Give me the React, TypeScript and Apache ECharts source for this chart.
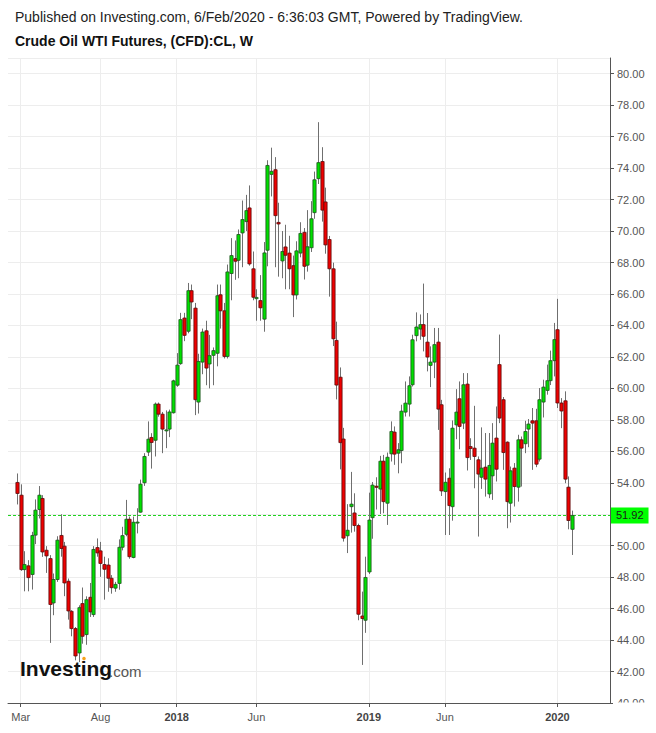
import React, { useEffect, useRef } from 'react';
import * as echarts from 'echarts';

// ---- Data (weekly bars, Crude Oil WTI CFD, week of 27 Feb 2017 .. week of 3 Feb 2020) ----
const START_UTC = Date.UTC(2017, 1, 27);
const opens = [
  54.02, 53.21, 48.48, 48.72, 48.17, 50.67, 52.30, 53.00, 49.71, 49.18,
  46.36, 47.85, 50.65, 49.97, 47.74, 45.83, 44.73, 43.18, 46.32, 44.35,
  46.72, 45.62, 49.88, 49.67, 48.80, 48.77, 47.93, 47.30, 47.60, 49.90,
  50.72, 51.68, 49.25, 51.45, 52.13, 54.00, 55.95, 56.88, 56.70, 59.00,
  58.36, 57.30, 57.41, 58.45, 60.20, 61.57, 64.47, 63.63, 66.21, 65.10,
  59.13, 61.67, 63.66, 61.55, 62.10, 62.23, 65.95, 64.93, 62.03, 67.30,
  68.25, 68.14, 69.88, 70.60, 71.47, 67.60, 65.70, 65.58, 64.40, 68.78,
  73.60, 73.90, 70.55, 68.10, 68.99, 68.60, 67.80, 65.94, 68.60, 69.92,
  67.83, 68.94, 71.17, 73.33, 74.42, 71.85, 69.46, 67.60, 63.05, 60.71,
  56.78, 50.63, 52.48, 52.08, 51.28, 45.53, 45.26, 48.33, 51.78, 53.78,
  53.60, 55.37, 52.70, 55.84, 57.22, 55.88, 56.05, 58.49, 59.00, 60.23,
  63.35, 63.77, 64.05, 62.94, 61.46, 61.67, 62.94, 58.96, 53.44, 54.29,
  52.48, 57.68, 59.34, 57.79, 60.27, 56.30, 56.20, 55.46, 54.35, 54.99,
  53.29, 54.44, 56.84, 61.51, 59.28, 56.58, 52.70, 54.93, 53.72, 56.73,
  56.48, 57.41, 57.94, 57.94, 55.50, 59.13, 59.87, 60.49, 61.76, 63.73,
  59.07, 59.21, 53.72, 51.04,
];
const closes = [
  53.32, 48.48, 48.80, 47.97, 50.65, 52.26, 53.21, 49.60, 49.35, 46.26,
  47.85, 50.35, 49.82, 47.63, 45.85, 44.73, 42.99, 46.06, 44.24, 46.57,
  45.79, 49.76, 49.54, 48.87, 48.50, 47.93, 47.33, 47.54, 49.90, 50.64,
  51.68, 49.30, 51.49, 51.50, 53.91, 55.67, 56.77, 56.56, 59.00, 58.36,
  57.41, 57.36, 58.50, 60.48, 61.48, 64.37, 63.37, 66.21, 65.49, 59.28,
  61.71, 63.58, 61.29, 62.08, 62.40, 65.89, 64.93, 62.03, 67.40, 68.44,
  68.08, 69.78, 70.73, 71.30, 67.91, 65.79, 65.78, 65.12, 68.61, 74.17,
  73.80, 70.98, 70.45, 68.70, 68.46, 67.60, 65.94, 68.74, 69.85, 67.76,
  69.00, 70.78, 73.26, 74.35, 71.33, 69.12, 67.60, 63.15, 60.21, 56.55,
  50.48, 50.98, 52.64, 51.28, 45.64, 45.37, 47.98, 51.63, 53.85, 53.71,
  55.37, 52.80, 55.62, 57.26, 55.82, 56.10, 58.55, 59.06, 60.17, 63.09,
  63.90, 64.05, 63.31, 61.99, 61.67, 62.78, 58.68, 53.48, 54.03, 52.55,
  57.47, 58.49, 57.58, 60.23, 55.60, 56.18, 55.67, 54.55, 54.93, 54.23,
  55.10, 56.52, 54.86, 58.11, 55.92, 52.80, 54.76, 53.76, 56.73, 56.20,
  57.26, 57.73, 57.79, 55.18, 59.28, 60.08, 60.49, 61.76, 63.10, 59.07,
  58.56, 54.23, 51.60, 51.92,
];
const lows = [
  52.62, 48.40, 47.10, 47.10, 47.21, 50.10, 51.73, 49.29, 48.27, 43.82,
  45.58, 47.70, 49.30, 46.79, 45.30, 44.24, 42.71, 42.60, 43.77, 43.70,
  45.47, 45.47, 49.30, 48.02, 46.57, 47.07, 46.95, 47.07, 47.20, 49.70,
  50.60, 49.17, 49.20, 50.78, 52.10, 53.80, 55.70, 54.90, 55.67, 58.20,
  55.88, 56.20, 56.90, 58.40, 60.10, 61.50, 63.00, 63.50, 64.40, 58.30,
  58.40, 60.90, 60.20, 60.00, 60.20, 61.40, 63.80, 61.90, 61.90, 65.60,
  66.90, 67.00, 67.70, 70.00, 67.80, 65.60, 64.30, 64.30, 63.60, 67.76,
  72.20, 67.70, 67.10, 67.00, 66.30, 66.30, 64.53, 65.65, 68.33, 66.92,
  67.42, 68.67, 70.78, 72.99, 70.60, 68.56, 65.83, 62.69, 59.30, 54.85,
  50.26, 49.53, 50.83, 50.89, 45.26, 42.42, 44.46, 48.20, 50.44, 52.30,
  52.01, 52.06, 51.32, 55.35, 55.14, 54.60, 55.24, 58.21, 58.21, 60.12,
  62.99, 63.09, 62.35, 61.08, 60.08, 60.65, 57.36, 53.16, 50.68, 50.68,
  51.59, 56.77, 56.13, 57.41, 54.78, 55.45, 53.65, 50.58, 53.61, 53.12,
  53.02, 52.91, 54.08, 57.79, 54.82, 51.11, 51.47, 52.49, 52.80, 53.76,
  55.88, 56.26, 54.82, 54.99, 55.35, 58.15, 59.60, 60.21, 60.76, 58.75,
  57.47, 53.97, 51.04, 49.41,
];
const highs = [
  54.59, 53.90, 49.65, 49.08, 50.88, 52.94, 53.79, 53.21, 49.97, 49.40,
  48.23, 50.60, 52.00, 50.24, 47.91, 45.90, 44.83, 46.21, 47.34, 46.78,
  47.63, 49.97, 50.46, 50.24, 49.30, 49.20, 48.13, 47.70, 50.40, 51.20,
  52.91, 51.85, 51.85, 52.38, 54.20, 55.88, 57.90, 57.15, 59.10, 59.10,
  58.50, 58.60, 58.65, 60.55, 62.24, 64.80, 64.80, 66.70, 66.60, 65.43,
  62.20, 63.80, 64.30, 63.40, 62.60, 66.60, 66.60, 65.43, 67.87, 69.55,
  69.40, 70.10, 71.94, 72.30, 72.90, 68.70, 66.30, 67.20, 69.30, 74.50,
  75.30, 74.70, 71.80, 70.00, 70.40, 69.70, 68.44, 69.35, 70.56, 70.19,
  71.33, 71.90, 73.78, 76.92, 75.33, 72.76, 69.69, 67.99, 64.24, 61.33,
  57.49, 52.64, 54.69, 53.33, 51.40, 47.08, 49.30, 53.37, 54.05, 54.35,
  55.71, 55.77, 55.92, 57.90, 57.58, 56.52, 58.96, 60.44, 60.76, 63.41,
  64.83, 64.70, 66.66, 64.79, 62.67, 63.84, 63.84, 59.27, 54.65, 54.92,
  57.96, 59.95, 60.44, 60.97, 60.97, 56.83, 58.89, 55.67, 57.52, 57.16,
  57.16, 57.79, 58.85, 63.42, 59.45, 56.63, 55.03, 55.25, 57.05, 56.94,
  57.94, 58.05, 58.75, 58.70, 60.02, 60.55, 61.51, 62.40, 64.16, 65.69,
  59.38, 59.81, 54.40, 52.23,
];
const tickLabels = ['Mar', 'Aug', '2018', 'Jun', '2019', 'Jun', '2020'];
const tickBarIndex = [1, 23, 44, 66, 97, 118, 149];
const lastPrice = 51.92;

const LEAD = 2;   // empty slots before first bar
const TRAIL = 10; // empty slots after last bar
const FONT = "'Liberation Sans', Arial, Helvetica, sans-serif";

const UP_FILL = '#00e000';
const UP_STROKE = '#1f4f1f';
const DOWN_FILL = '#ee0000';
const DOWN_STROKE = '#5a0c0c';
const WICK = '#6f6f6f';
const LAST_LINE = '#1fd41f';

export default function App() {
  const ref = useRef<HTMLDivElement>(null);

  useEffect(() => {
    document.body.style.margin = '0';
    if (!ref.current) return;
    const chart = echarts.init(ref.current, null, { renderer: 'svg' });

    const n = opens.length;
    const categories: string[] = [];
    for (let i = 0; i < LEAD + n + TRAIL; i++) {
      const d = new Date(START_UTC + (i - LEAD) * 7 * 86400000);
      categories.push(d.toISOString().slice(0, 10));
    }
    const labelByCat: Record<number, string> = {};
    tickBarIndex.forEach((b, k) => { labelByCat[b + LEAD] = tickLabels[k]; });
    const isTick = (idx: number) => labelByCat[idx] !== undefined;

    const data = opens.map((o, i) => [i + LEAD, o, closes[i], lows[i], highs[i]]);

    const option: any = {
      animation: false,
      backgroundColor: '#ffffff',
      grid: { left: 8, right: 46, top: 58, bottom: 30, containLabel: false },
      xAxis: {
        type: 'category',
        data: categories,
        boundaryGap: true,
        axisLine: { show: true, lineStyle: { color: '#555555', width: 1 } },
        axisTick: { show: true, alignWithLabel: true, interval: isTick, length: 4, lineStyle: { color: '#555555' } },
        axisLabel: {
          interval: isTick,
          margin: 8,
          color: '#555555',
          fontSize: 11,
          fontFamily: FONT,
          formatter: (_v: string, idx: number) => {
            const t = labelByCat[idx] || '';
            return /^\d{4}$/.test(t) ? '{y|' + t + '}' : t;
          },
          rich: { y: { fontWeight: 'bold', color: '#444444', fontSize: 11, fontFamily: FONT } },
        },
        splitLine: { show: true, alignWithLabel: true, interval: isTick, lineStyle: { color: '#ededed', width: 1 } },
      },
      yAxis: {
        type: 'value',
        position: 'right',
        min: 40,
        max: 81,
        interval: 2,
        axisLine: { show: true, lineStyle: { color: '#555555', width: 1 } },
        axisTick: { show: true, length: 4, lineStyle: { color: '#555555' } },
        axisLabel: {
          margin: 7,
          color: '#555555',
          fontSize: 11,
          fontFamily: FONT,
          showMinLabel: true,
          showMaxLabel: false,
          formatter: (v: number) => v.toFixed(2),
        },
        splitLine: { show: true, lineStyle: { color: '#ededed', width: 1 } },
      },
      series: [
        {
          type: 'custom',
          name: 'CL',
          data,
          encode: { x: 0, y: [1, 2, 3, 4] },
          clip: true,
          itemStyle: { color: LAST_LINE },
          renderItem: (_params: any, api: any) => {
            const xi = api.value(0);
            const o = api.value(1);
            const c = api.value(2);
            const l = api.value(3);
            const h = api.value(4);
            const up = c >= o;
            const pTop = api.coord([xi, Math.max(o, c)]);
            const pBot = api.coord([xi, Math.min(o, c)]);
            const pHi = api.coord([xi, h]);
            const pLo = api.coord([xi, l]);
            const R = Math.round(pTop[0]);
            const cx = R + 0.5;
            const bodyH = Math.max(1, pBot[1] - pTop[1]);
            return {
              type: 'group',
              children: [
                {
                  type: 'line',
                  shape: { x1: cx, y1: pHi[1], x2: cx, y2: pLo[1] },
                  style: { stroke: WICK, lineWidth: 1 },
                },
                {
                  type: 'rect',
                  shape: { x: cx - 1.6, y: pTop[1], width: 3.2, height: bodyH },
                  style: {
                    fill: up ? UP_FILL : DOWN_FILL,
                    stroke: up ? UP_STROKE : DOWN_STROKE,
                    lineWidth: 0.8,
                  },
                },
              ],
            };
          },
          markLine: {
            silent: true,
            symbol: ['none', 'none'],
            animation: false,
            lineStyle: { color: LAST_LINE, type: [3, 2], width: 1, opacity: 1 },
            label: {
              show: true,
              position: 'end',
              distance: 1,
              formatter: lastPrice.toFixed(2),
              backgroundColor: '#00ff00',
              color: '#1a1a1a',
              fontSize: 11,
              fontFamily: FONT,
              padding: [3, 5, 2, 5],
            },
            emphasis: { disabled: true },
            data: [{ yAxis: lastPrice, lineStyle: { color: LAST_LINE, type: [3, 2], width: 1 } }],
          },
          z: 5,
        },
      ],
      graphic: [
        {
          type: 'text',
          x: 15,
          y: 17,
          style: {
            text: 'Published on Investing.com, 6/Feb/2020 - 6:36:03 GMT, Powered by TradingView.',
            font: '14px ' + FONT,
            fill: '#222222',
            align: 'left',
            verticalAlign: 'middle',
          },
        },
        {
          type: 'text',
          x: 15,
          y: 41,
          style: {
            text: 'Crude Oil WTI Futures, (CFD):CL, W',
            font: 'bold 14px ' + FONT,
            fill: '#111111',
            align: 'left',
            verticalAlign: 'middle',
          },
        },
        {
          type: 'text',
          x: 20,
          y: 668,
          z: 50,
          style: {
            text: 'Investing',
            font: 'bold 21px ' + FONT,
            fill: '#111111',
            align: 'left',
            verticalAlign: 'middle',
          },
        },
        {
          type: 'text',
          x: 109,
          y: 671,
          z: 50,
          style: {
            text: '.com',
            font: '15px ' + FONT,
            fill: '#555555',
            align: 'left',
            verticalAlign: 'middle',
          },
        },
        {
          type: 'circle',
          z: 51,
          shape: { cx: 84, cy: 658.5, r: 1.8 },
          style: { fill: '#f7a21b' },
        },
        {
          type: 'rect',
          z: 100,
          shape: { x: 613, y: 702.5, width: 43, height: 14 },
          style: { fill: '#ffffff' },
        },
      ],
    };

    chart.setOption(option);
    return () => chart.dispose();
  }, []);

  return (
    <div
      ref={ref}
      style={{ position: 'absolute', left: 0, top: 0, width: 656, height: 733, background: '#ffffff' }}
    />
  );
}
